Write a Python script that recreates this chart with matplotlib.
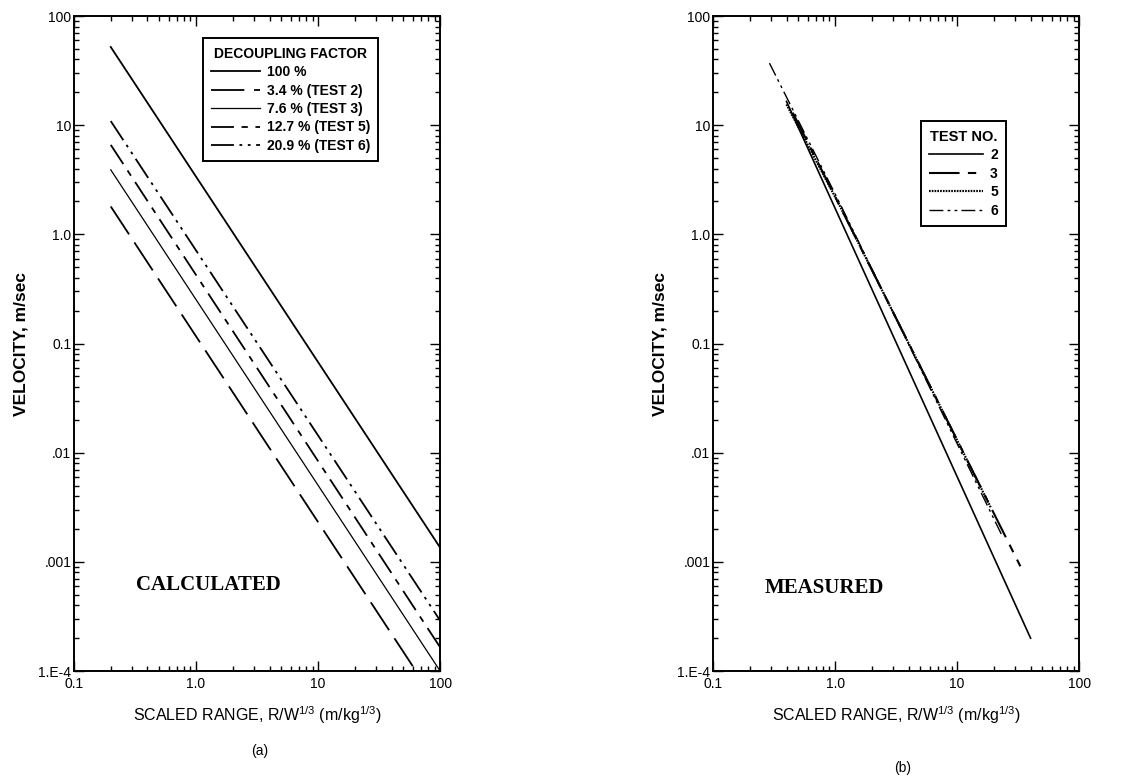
import matplotlib
matplotlib.use('Agg')
import matplotlib.pyplot as plt
import matplotlib.ticker as mticker
import numpy as np

# fonts: Arial-like sans for axes, Times-like bold for panel captions
plt.rcParams['font.family'] = ['Liberation Sans', 'DejaVu Sans']
plt.rcParams['mathtext.fontset'] = 'custom'
plt.rcParams['mathtext.rm'] = 'Liberation Sans'
plt.rcParams['mathtext.it'] = 'Liberation Sans'
plt.rcParams['lines.scale_dashes'] = False

# (a) CALCULATED - decoupling factor lines (scaled range, velocity)
calc_labels = ['100 %', '3.4 % (TEST 2)', '7.6 % (TEST 3)', '12.7 % (TEST 5)', '20.9 % (TEST 6)']
calc_x = [0.2, 100]
calc_v = [[52, 1.35e-3],
          [1.8, 4.6e-5],
          [3.9, 1.0e-4],
          [6.6, 1.65e-4],
          [10.9, 2.9e-4]]

# (b) MEASURED - test number lines
meas_labels = ['2', '3', '5', '6']
meas_x = [[0.4, 40],
          [0.45, 1.1, 33],
          [0.4, 1.1, 19],
          [0.29, 1.1, 23]]
meas_v = [[16.5, 2.0e-4],
          [13.0, 1.8, 9.1e-4],
          [15.5, 1.8, 3.1e-3],
          [37, 1.9, 1.8e-3]]

y_ticks = [1e-4, 1e-3, 1e-2, 1e-1, 1, 10, 100]
y_ticklabels = ['1.E-4', '.001', '.01', '0.1', '1.0', '10', '100']
x_ticks = [0.1, 1, 10, 100]
x_ticklabels = ['0.1', '1.0', '10', '100']

calc_styles = [dict(ls='-', lw=1.3),
               dict(ls=(0, (24, 7)), lw=1.3),
               dict(ls='-', lw=0.9),
               dict(ls=(0, (16.5, 5.5, 4.5, 5.5)), lw=1.3),
               dict(ls=(0, (16.5, 4, 2, 4, 2, 4)), lw=1.3)]
meas_styles = [dict(ls='-', lw=1.2),
               dict(ls=(0, (22, 6, 6, 6)), lw=1.5),
               dict(ls=(0, (1.2, 0.8)), lw=1.6),
               dict(ls=(0, (10, 3, 2, 3, 2, 3)), lw=1.0)]

fig = plt.figure(figsize=(11.3, 7.81), dpi=100)
ax1 = fig.add_axes([0.0655, 0.1408, 0.324, 0.8387])
ax2 = fig.add_axes([0.631, 0.1408, 0.324, 0.8387])


def style_axes(ax):
    ax.set_xscale('log')
    ax.set_yscale('log')
    ax.set_xlim(0.1, 100)
    ax.set_ylim(1e-4, 100)
    ax.set_xticks(x_ticks)
    ax.set_xticklabels(x_ticklabels)
    ax.set_yticks(y_ticks)
    ax.set_yticklabels(y_ticklabels)
    ax.xaxis.set_minor_locator(mticker.LogLocator(base=10, subs=np.arange(2, 10)))
    ax.yaxis.set_minor_locator(mticker.LogLocator(base=10, subs=np.arange(2, 10)))
    ax.xaxis.set_minor_formatter(mticker.NullFormatter())
    ax.yaxis.set_minor_formatter(mticker.NullFormatter())
    ax.tick_params(which='both', direction='in', top=True, right=True, labelsize=10, width=1)
    ax.tick_params(which='major', length=7)
    ax.tick_params(which='minor', length=3.5)
    ax.tick_params(axis='x', pad=4)
    ax.tick_params(axis='y', pad=2)
    for s in ax.spines.values():
        s.set_linewidth(1.4)
    ax.set_xlabel('SCALED RANGE, R/W$^{1/3}$ (m/kg$^{1/3}$)', fontsize=11.5, labelpad=10)
    ax.set_ylabel('VELOCITY, m/sec', fontsize=12.5, fontweight='bold', labelpad=7)


style_axes(ax1)
style_axes(ax2)

for lab, v, st in zip(calc_labels, calc_v, calc_styles):
    ax1.plot(calc_x, v, color='black', label=lab, **st)

for lab, x, v, st in zip(meas_labels, meas_x, meas_v, meas_styles):
    ax2.plot(x, v, color='black', label=lab, **st)

leg1 = ax1.legend(title='DECOUPLING FACTOR', loc='upper left', bbox_to_anchor=(0.352, 0.966),
                  borderaxespad=0, fancybox=False, edgecolor='black', framealpha=1,
                  handlelength=3.5, handletextpad=0.5, borderpad=0.6, labelspacing=0.32,
                  prop={'weight': 'bold', 'size': 10})
leg1.get_title().set_fontweight('bold')
leg1.get_title().set_fontsize(10)
leg1.get_frame().set_linewidth(1.4)

leg2 = ax2.legend(title='TEST NO.', loc='upper left', bbox_to_anchor=(0.567, 0.839),
                  borderaxespad=0, fancybox=False, edgecolor='black', framealpha=1,
                  handlelength=3.9, handletextpad=0.5, borderpad=0.6, labelspacing=0.32,
                  prop={'weight': 'bold', 'size': 10})
leg2.get_title().set_fontweight('bold')
leg2.get_title().set_fontsize(10.5)
leg2.get_frame().set_linewidth(1.4)

ax1.text(0.367, 0.131, 'CALCULATED', transform=ax1.transAxes, ha='center', va='center',
         family=['Liberation Serif', 'DejaVu Serif'], fontweight='bold', fontsize=15)
ax2.text(0.305, 0.127, 'MEASURED', transform=ax2.transAxes, ha='center', va='center',
         family=['Liberation Serif', 'DejaVu Serif'], fontweight='bold', fontsize=15)

fig.text(260 / 1130, 1 - 751 / 781, '(a)', ha='center', va='center', fontsize=10)
fig.text(903 / 1130, 1 - 768 / 781, '(b)', ha='center', va='center', fontsize=10)

plt.savefig('out.png', dpi=100)
